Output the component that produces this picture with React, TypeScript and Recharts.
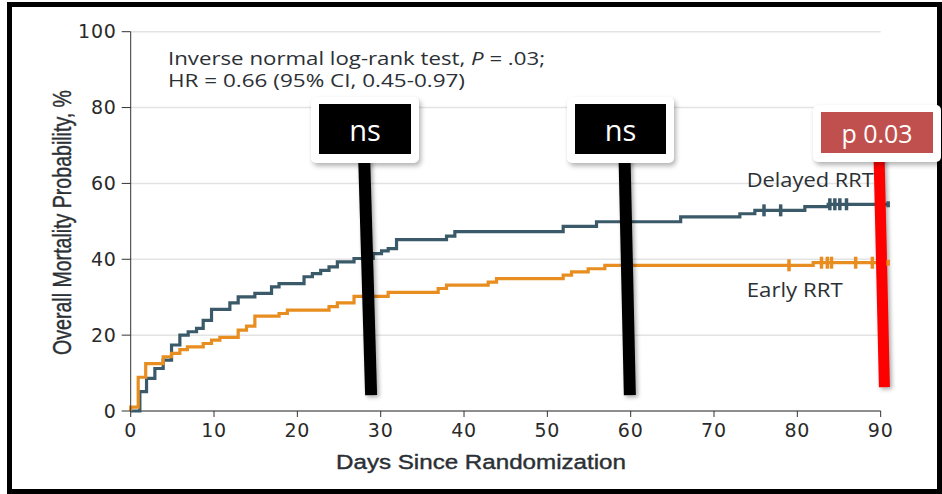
import {
  ComposedChart,
  Line,
  Scatter,
  XAxis,
  YAxis,
  CartesianGrid,
  ReferenceLine,
} from "recharts";

const xTicks = [0, 10, 20, 30, 40, 50, 60, 70, 80, 90];
const yTicks = [0, 20, 40, 60, 80, 100];

// Kaplan-Meier cumulative mortality (day, %)
const delayedDays = [0, 1.1, 1.9, 2.9, 3.9, 4.9, 5.9, 6.9, 7.9, 8.7, 9.7, 11.9, 12.9, 14.9, 16.9, 17.8, 20.8, 21.8, 22.8, 23.8, 24.8, 26.8, 29.1, 30.1, 30.9, 31.9, 37.9, 38.9, 51.9, 55.9, 66.0, 73.1, 74.9, 80.9, 83.7, 90.9];
const delayedPct = [0, 5.1, 8.6, 11.2, 13.4, 17.4, 20.0, 20.9, 21.8, 23.9, 26.8, 28.5, 30.1, 31.0, 32.7, 33.6, 35.4, 36.2, 37.1, 38.0, 39.3, 40.2, 41.5, 42.2, 42.8, 45.2, 46.1, 47.3, 48.7, 49.9, 51.2, 52.0, 52.9, 53.9, 54.5, 54.5];

const earlyDays = [0, 0, 0.9, 1.8, 3.9, 4.9, 5.9, 6.8, 8.7, 9.7, 10.7, 12.9, 13.9, 14.9, 17.8, 18.8, 23.8, 24.8, 26.8, 30.9, 36.9, 37.9, 42.9, 43.9, 51.9, 52.9, 54.9, 56.9, 81.9, 91.0];
const earlyPct = [0, 1.0, 8.9, 12.5, 14.3, 15.2, 16.2, 16.9, 17.8, 18.7, 19.4, 21.3, 22.4, 25.0, 25.7, 26.6, 27.5, 28.5, 30.2, 31.3, 32.3, 33.2, 34.0, 34.9, 35.8, 36.7, 37.5, 38.4, 39.1, 39.1];

// censoring marks (days)
const delayedCensor = [76.0, 78.0, 83.9, 84.5, 85.1, 85.9, 90.9];
const earlyCensor = [79.0, 82.9, 83.6, 84.1, 87.0, 89.0, 90.9];

// pasted-on markers: [dayTop, pctTop, dayBottom, pctBottom]
const blackBars = [
  [28.0, 68, 28.85, 4.2],
  [59.25, 68, 59.9, 4.2],
];
const redBar = [89.8, 68, 90.45, 6.3];

const DARK = "#3b5a69";
const ORANGE = "#e88d1f";
const TEXT = "#2b3035";

const toPoints = (days: number[], pct: number[]) =>
  days.map((d, i) => ({ day: d, pct: pct[i] }));

// value of a step curve at a given day
const stepValue = (days: number[], pct: number[], day: number) => {
  let v = pct[0];
  for (let i = 0; i < days.length; i++) if (days[i] <= day) v = pct[i];
  return v;
};

const delayed = toPoints(delayedDays, delayedPct);
const early = toPoints(earlyDays, earlyPct);
const delayedMarks = delayedCensor.map((d) => ({ day: d, pct: stepValue(delayedDays, delayedPct, d) }));
const earlyMarks = earlyCensor.map((d) => ({ day: d, pct: stepValue(earlyDays, earlyPct, d) }));

const censorShape = (color: string) => (props: any) => {
  const { cx, cy, payload } = props;
  const h = payload && payload.day > 90.5 ? 6 : 12;
  return <rect x={cx - 1.75} y={cy - h / 2} width={3.5} height={h} fill={color} />;
};

const barShape = (color: string, w: number) => (props: any) => (
  <line
    x1={props.x1}
    y1={props.y1}
    x2={props.x2}
    y2={props.y2}
    stroke={color}
    strokeWidth={w}
    style={{ filter: "drop-shadow(2px 2px 2px rgba(0,0,0,0.35))" }}
  />
);

const tickStyle = { fill: "#2a2a2a", fontSize: 19, fontFamily: "DejaVu Sans", letterSpacing: 0.8 };

const Box = ({ left, top, width, height, fill, text, fontSize, inset }: any) => (
  <div
    style={{
      position: "absolute",
      left,
      top,
      width,
      height,
      background: "#fff",
      borderRadius: 5,
      boxShadow: "2px 3px 5px rgba(0,0,0,0.3)",
    }}
  >
    <div
      style={{
        position: "absolute",
        left: inset[0],
        top: inset[1],
        right: inset[2],
        bottom: inset[3],
        background: fill,
        color: "#fff",
        fontFamily: "'Open Sans', sans-serif",
        fontSize,
        display: "flex",
        alignItems: "center",
        justifyContent: "center",
      }}
    >
      {text}
    </div>
  </div>
);

export default function App() {
  return (
    <div style={{ position: "absolute", left: 0, top: 0, width: 942, height: 494, background: "#fff", overflow: "hidden" }}>
      <ComposedChart
        width={942}
        height={494}
        margin={{ top: 31.7, right: 53, bottom: 43, left: 70.7 }}
      >
        <CartesianGrid horizontal vertical={false} stroke="#e3e3e3" strokeWidth={1.5} x={130.7} width={750} />
        <XAxis
          type="number"
          dataKey="day"
          domain={[0, 91]}
          ticks={xTicks}
          height={40}
          axisLine={false}
          tickLine={{ stroke: "#333" }}
          tickSize={6}
          tickMargin={7}
          tick={tickStyle}
          interval={0}
        />
        <YAxis
          type="number"
          domain={[0, 100]}
          ticks={yTicks}
          width={60}
          axisLine={{ stroke: "#333" }}
          tickLine={{ stroke: "#333" }}
          tickSize={9}
          tickMargin={5}
          tick={tickStyle}
          interval={0}
        />
        <ReferenceLine
          segment={[{ x: 0, y: 0 }, { x: 90, y: 0 }]}
          stroke="#333"
          strokeWidth={1.2}
          ifOverflow="visible"
        />
        <Line data={delayed} dataKey="pct" type="stepAfter" stroke={DARK} strokeWidth={3.2} dot={false} isAnimationActive={false} />
        <Line data={early} dataKey="pct" type="stepAfter" stroke={ORANGE} strokeWidth={3.2} dot={false} isAnimationActive={false} />
        <Scatter data={delayedMarks} dataKey="pct" fill={DARK} shape={censorShape(DARK)} isAnimationActive={false} />
        <Scatter data={earlyMarks} dataKey="pct" fill={ORANGE} shape={censorShape(ORANGE)} isAnimationActive={false} />
        {blackBars.map((b, i) => (
          <ReferenceLine
            key={i}
            segment={[{ x: b[0], y: b[1] }, { x: b[2], y: b[3] }]}
            ifOverflow="visible"
            shape={barShape("#000", 12)}
          />
        ))}
        <ReferenceLine
          segment={[{ x: redBar[0], y: redBar[1] }, { x: redBar[2], y: redBar[3] }]}
          ifOverflow="visible"
          shape={barShape("#ff0000", 11)}
        />
      </ComposedChart>

      <svg width={942} height={494} style={{ position: "absolute", left: 0, top: 0, pointerEvents: "none" }}>
        <g fill={TEXT} fontFamily="'Open Sans', sans-serif">
          <text x={168} y={65} fontSize={18} textLength={377} lengthAdjust="spacingAndGlyphs">
            Inverse normal log-rank test, <tspan fontStyle="italic">P</tspan> = .03;
          </text>
          <text x={168} y={87} fontSize={18} textLength={297} lengthAdjust="spacingAndGlyphs">
            HR = 0.66 (95% CI, 0.45-0.97)
          </text>
          <text x={746.7} y={187.3} fontSize={19.5} textLength={127} lengthAdjust="spacingAndGlyphs">
            Delayed RRT
          </text>
          <text x={746.7} y={296.7} fontSize={19.5} textLength={96} lengthAdjust="spacingAndGlyphs">
            Early RRT
          </text>
        </g>
        <g fill={TEXT} stroke={TEXT} strokeWidth={0.4} fontFamily="'Liberation Sans', sans-serif">
          <text x={336} y={469} fontSize={20} textLength={290} lengthAdjust="spacingAndGlyphs">
            Days Since Randomization
          </text>
          <text
            x={71}
            y={355}
            fontSize={26}
            textLength={265}
            lengthAdjust="spacingAndGlyphs"
            transform="rotate(-90 71 355)"
          >
            Overall Mortality Probability, %
          </text>
        </g>
      </svg>

      <div
        style={{
          position: "absolute",
          left: 7,
          top: 2,
          width: 935,
          height: 492,
          border: "5px solid #000",
          boxSizing: "border-box",
          pointerEvents: "none",
        }}
      />

      <Box left={311} top={97} width={108} height={66} fill="#000" text="ns" fontSize={29} inset={[8, 7, 8, 9]} />
      <Box left={567} top={97} width={107} height={66} fill="#000" text="ns" fontSize={29} inset={[8, 7, 8, 9]} />
      <Box left={813} top={105} width={128} height={57} fill="#c0504d" text="p 0.03" fontSize={25} inset={[8, 7, 8, 9]} />
    </div>
  );
}
